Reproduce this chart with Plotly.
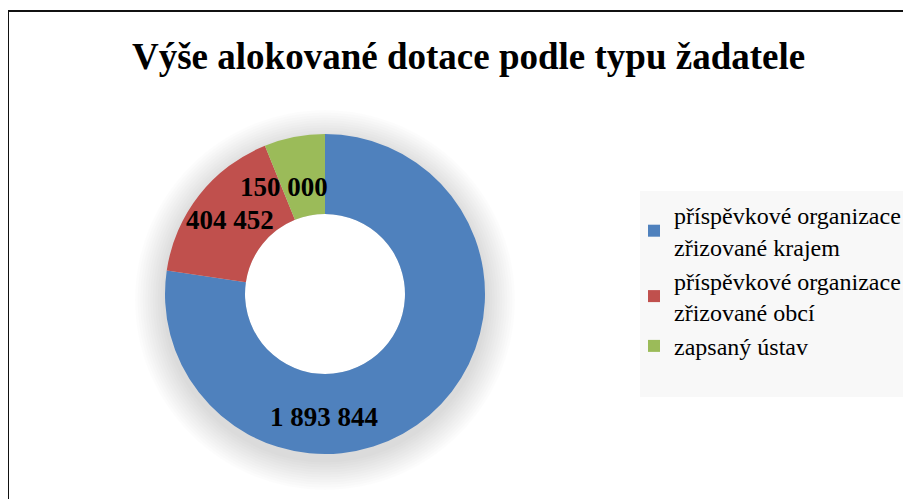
import plotly.graph_objects as go

title_text = "Výše alokované dotace podle typu žadatele"
categories = [
    "příspěvkové organizace<br>zřizované krajem",
    "příspěvkové organizace<br>zřizované obcí",
    "zapsaný ústav",
]
values = [1893844, 404452, 150000]
colors = ["#4F81BD", "#C0504D", "#9BBB59"]

# page body has an 8px margin, so the figure is shifted by 8px
OFF = 8
W, H = 903, 491


def px(x):  # screen x -> paper
    return (x - OFF) / W


def py(y):  # screen y -> paper
    return 1 - (y - OFF) / H


def fmt(v):
    return f"{v:,}".replace(",", " ")


SERIF = "Liberation Serif, Times New Roman, serif"

fig = go.Figure()
fig.add_trace(go.Pie(
    labels=categories,
    values=values,
    marker=dict(colors=colors, line=dict(width=0)),
    hole=0.5,
    sort=False,
    direction="clockwise",
    rotation=0,
    textinfo="none",
    hoverinfo="label+value",
    domain=dict(x=[px(165), px(485)], y=[py(454), py(134)]),
))

# data labels (placed like the original, text from the values)
label_pos = [(324, 417), (230, 220), (284, 187)]
annotations = []
for v, (lx, ly) in zip(values, label_pos):
    annotations.append(dict(
        x=px(lx), y=py(ly), xref="paper", yref="paper",
        text=f"<b>{fmt(v)}</b>", showarrow=False,
        xanchor="center", yanchor="middle",
        font=dict(family=SERIF, size=27, color="#000000"),
    ))
annotations.append(dict(
    x=px(468), y=py(56), xref="paper", yref="paper",
    text=f"<b>{title_text}</b>", showarrow=False,
    xanchor="center", yanchor="middle",
    font=dict(family=SERIF, size=37, color="#000000"),
))

shapes = []
# soft shadow around donut
cx, cy, R = 325, 300, 160
for k in range(1, 13):
    r = R + k * 2.5
    shapes.append(dict(
        type="circle", xref="paper", yref="paper", layer="below",
        x0=px(cx - r), x1=px(cx + r), y0=py(cy + r), y1=py(cy - r),
        fillcolor="rgba(0,0,0,0.010)", line=dict(width=0),
    ))
# keep the hole white
rh = 80
shapes.append(dict(
    type="circle", xref="paper", yref="paper", layer="below",
    x0=px(325 - rh), x1=px(325 + rh), y0=py(294 + rh), y1=py(294 - rh),
    fillcolor="#ffffff", line=dict(width=0),
))
# legend background box
shapes.append(dict(
    type="rect", xref="paper", yref="paper", layer="below",
    x0=px(640), x1=px(908), y0=py(397), y1=py(191),
    fillcolor="#f8f8f8", line=dict(width=0),
))
# chart frame (left and top edges)
shapes.append(dict(type="line", xref="paper", yref="paper",
                   x0=px(8), x1=px(8), y0=0, y1=py(11),
                   line=dict(color="#111111", width=2)))
shapes.append(dict(type="line", xref="paper", yref="paper",
                   x0=px(8), x1=1, y0=py(11), y1=py(11),
                   line=dict(color="#111111", width=2)))

fig.update_layout(
    width=W, height=H,
    margin=dict(l=0, r=0, t=0, b=0, autoexpand=False),
    paper_bgcolor="#ffffff",
    plot_bgcolor="#ffffff",
    font=dict(family=SERIF, color="#000000"),
    showlegend=True,
    legend=dict(
        x=px(634), y=py(193), xanchor="left", yanchor="top",
        bgcolor="rgba(0,0,0,0)",
        font=dict(family=SERIF, size=24, color="#000000"),
        traceorder="normal",
    ),
    annotations=annotations,
    shapes=shapes,
)

fig.write_html("out.html")
